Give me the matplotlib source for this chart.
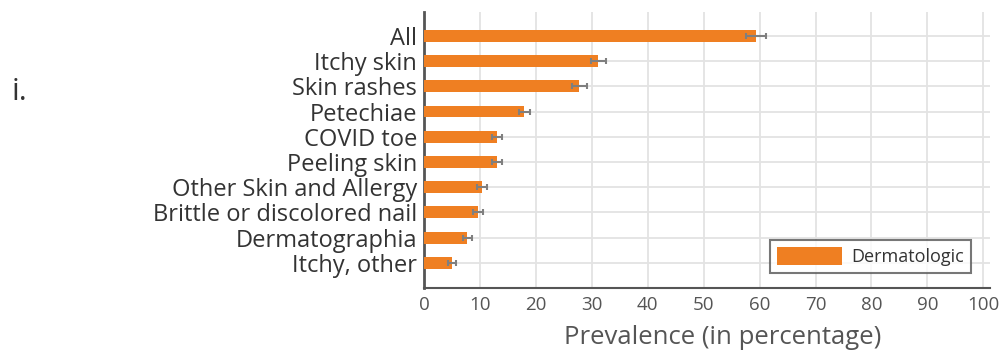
import matplotlib.pyplot as plt
import numpy as np

# categories top to bottom
labels = ['All', 'Itchy skin', 'Skin rashes', 'Petechiae', 'COVID toe', 'Peeling skin',
          'Other Skin and Allergy', 'Brittle or discolored nail', 'Dermatographia', 'Itchy, other']
values = [59.3, 31.2, 27.8, 17.9, 13.1, 13.0, 10.4, 9.7, 7.7, 5.0]
errors = [1.8, 1.4, 1.3, 1.0, 0.9, 0.9, 0.9, 0.9, 0.8, 0.7]
xticks = list(range(0, 101, 10))

orange = '#EF7F22'
txt = '#333333'

plt.rcParams['font.family'] = ['Open Sans', 'DejaVu Sans']

fig = plt.figure(figsize=(10, 3.58), dpi=100)
ax = fig.add_axes([0.424, 0.1955, 0.566, 0.771])

y = np.arange(len(labels))[::-1]
ax.barh(y, values, height=0.47, color=orange, label='Dermatologic', zorder=3)
ax.errorbar(values, y, xerr=errors, fmt='none', ecolor='#7f7f7f', elinewidth=1.5,
            capsize=2.5, capthick=1.5, zorder=4)

ax.set_xlim(0, 101.2)
ax.set_ylim(-1.0, 9.95)
ax.set_xticks(xticks)
ax.set_yticks(y)
ax.set_yticklabels(labels, fontsize=17, color=txt)
ax.tick_params(axis='x', labelsize=13.5, colors='#555555', length=0, pad=6)
ax.tick_params(axis='y', length=0, pad=5)
ax.grid(True, color='#e3e3e3', linewidth=1.3, zorder=0)
ax.set_axisbelow(True)

for s in ['top', 'right']:
    ax.spines[s].set_visible(False)
ax.spines['left'].set_color('#555555')
ax.spines['left'].set_linewidth(2)
ax.spines['bottom'].set_color('#555555')
ax.spines['bottom'].set_linewidth(1.5)

ax.set_xlabel('Prevalence (in percentage)', fontsize=18.5, color='#555555')
ax.xaxis.set_label_coords(0.528, -0.135)

leg = ax.legend(loc='lower right', fontsize=13, frameon=True, fancybox=False,
                edgecolor='#555555', handlelength=3.6, handleheight=1.1,
                borderpad=0.4, handletextpad=0.5, bbox_to_anchor=(0.983, 0.02))
leg.get_frame().set_linewidth(1.5)
for t in leg.get_texts():
    t.set_color(txt)

fig.text(0.012, 0.72, 'i.', fontsize=22, color=txt)

fig.savefig('out.png', dpi=100)
